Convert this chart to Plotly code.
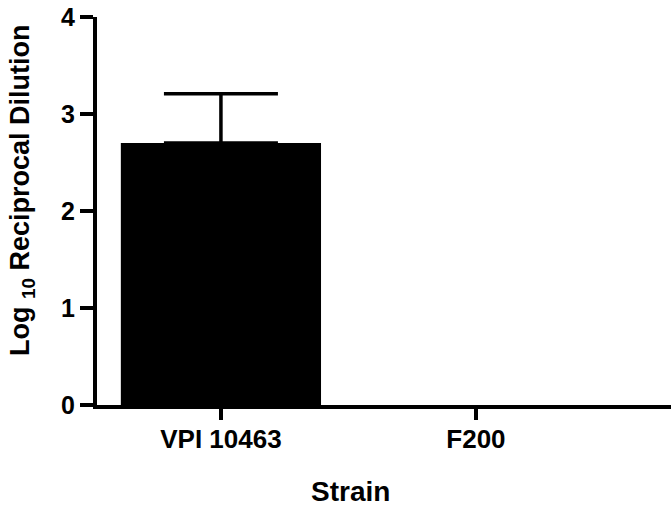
import plotly.graph_objects as go

strains = ["VPI 10463", "F200"]
means = [2.7, 0.0]
errors_up = [0.51, 0.0]
y_ticks = [0, 1, 2, 3, 4]

FONT = "Liberation Sans, Arial, Helvetica, sans-serif"

fig = go.Figure()
fig.add_trace(go.Bar(
    x=strains,
    y=means,
    width=0.785,
    marker=dict(color="black", line=dict(width=0)),
    showlegend=False,
))

# error bars only where there is a nonzero error
err_x = [s for s, e in zip(strains, errors_up) if e > 0]
err_y = [m for m, e in zip(means, errors_up) if e > 0]
err_v = [e for e in errors_up if e > 0]
fig.add_trace(go.Scatter(
    x=err_x, y=err_y, mode="markers",
    marker=dict(size=1, color="rgba(0,0,0,0)"),
    error_y=dict(type="data", array=err_v, arrayminus=[0] * len(err_v), symmetric=False,
                 color="black", thickness=3.5, width=57),
    showlegend=False, hoverinfo="skip",
))

fig.update_layout(
    width=671, height=507,
    margin=dict(l=97, r=0, t=17, b=102, autoexpand=False),
    paper_bgcolor="white", plot_bgcolor="white",
    font=dict(family=FONT, color="black"),
    xaxis=dict(
        type="category",
        range=[-0.486, 1.765],
        automargin=False,
        showline=True, linecolor="black", linewidth=4,
        ticks="outside", ticklen=11, tickwidth=4, tickcolor="black",
        ticklabelstandoff=-3,
        tickfont=dict(family=FONT, size=26, weight="bold", color="black"),
        showgrid=False, zeroline=False,
    ),
    yaxis=dict(
        range=[0, 4],
        automargin=False,
        tickvals=y_ticks,
        showline=True, linecolor="black", linewidth=4,
        ticks="outside", ticklen=13, tickwidth=4, tickcolor="black",
        tickfont=dict(family=FONT, size=25, weight="bold", color="black"),
        showgrid=False, zeroline=False,
    ),
    annotations=[
        dict(text="Strain", xref="paper", yref="paper", x=0.4408, y=-0.224,
             xanchor="center", yanchor="middle", showarrow=False,
             font=dict(family=FONT, size=28, weight="bold", color="black")),
        dict(text="Log <sub>10</sub> Reciprocal Dilution", xref="paper", yref="paper",
             x=-0.1307, y=0.554, xanchor="center", yanchor="middle", showarrow=False,
             textangle=-90,
             font=dict(family=FONT, size=27, weight="bold", color="black")),
    ],
)

fig.write_html("out.html",
               config={"displayModeBar": False},
               post_script="document.body.style.margin='0';document.body.style.padding='0';")
